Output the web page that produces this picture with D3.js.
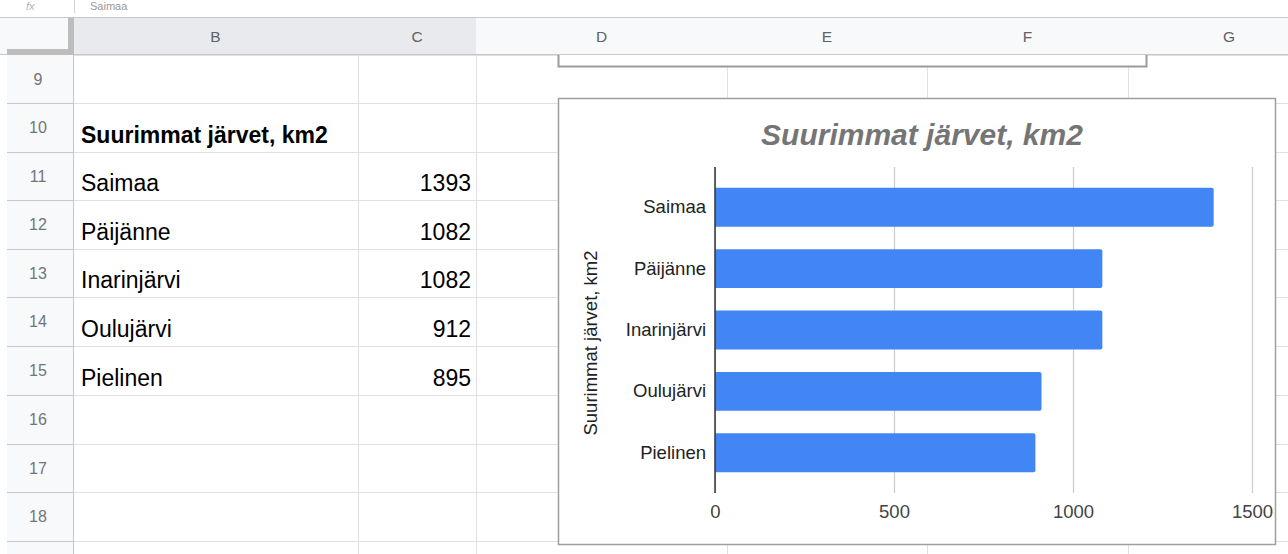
<!DOCTYPE html>
<html><head><meta charset="utf-8">
<script src="https://cdn.jsdelivr.net/npm/d3@7"></script>
<style>
body{margin:0;background:#fff;overflow:hidden}
text{font-family:"Liberation Sans",Arial,sans-serif}
</style>
</head><body>
<svg id="c" width="1288" height="554"></svg>
<script>
// ---------- data ----------
const columnLetters = ["B", "C", "D", "E", "F", "G"];
const rowNumbers = [9, 10, 11, 12, 13, 14, 15, 16, 17, 18];
const tableTitle = "Suurimmat järvet, km2";
const lakes = ["Saimaa", "Päijänne", "Inarinjärvi", "Oulujärvi", "Pielinen"];
const areas = [1393, 1082, 1082, 912, 895];
const xTicks = [0, 500, 1000, 1500];
const chartTitle = "Suurimmat järvet, km2";
const yAxisTitle = "Suurimmat järvet, km2";
const formulaText = "Saimaa";

// ---------- layout ----------
const svg = d3.select("#c");
const colEdges = [73, 358, 476, 727, 927, 1128, 1330];
const rowEdges = [55, 103, 152, 200, 249, 297, 346, 395, 444, 492, 541];
const gridColor = "#e0e0e0", hdrLine = "#c7c7c7";

svg.append("rect").attr("width", 1288).attr("height", 554).attr("fill", "#fff");

// cell gridlines
const grid = svg.append("g");
colEdges.slice(1, -1).forEach(x => grid.append("line")
  .attr("x1", x + .5).attr("x2", x + .5).attr("y1", 55).attr("y2", 554)
  .attr("stroke", gridColor).attr("stroke-width", 1));
rowEdges.forEach(y => grid.append("line")
  .attr("x1", 73).attr("x2", 1288).attr("y1", y + .5).attr("y2", y + .5)
  .attr("stroke", gridColor).attr("stroke-width", 1));

// cell contents
const cellFont = 23;
function rowBottom(n) { return rowEdges[rowNumbers.indexOf(n) + 1]; }
svg.append("text").attr("x", 81).attr("y", rowBottom(10) - 9)
  .attr("font-size", cellFont).attr("font-weight", "bold").attr("fill", "#000")
  .text(tableTitle);
lakes.forEach((l, i) => {
  svg.append("text").attr("x", 81).attr("y", rowBottom(11 + i) - 9)
    .attr("font-size", cellFont).attr("fill", "#000").text(l);
  svg.append("text").attr("x", 471).attr("y", rowBottom(11 + i) - 9)
    .attr("font-size", cellFont).attr("fill", "#000").attr("text-anchor", "end")
    .text(areas[i]);
});

// chart 1 remnant (bottom of another chart)
svg.append("rect").attr("x", 558.5).attr("y", 30).attr("width", 588).attr("height", 36.5)
  .attr("fill", "#fff").attr("stroke", "#9a9a9a").attr("stroke-width", 2);

// formula bar
svg.append("rect").attr("x", 0).attr("y", 0).attr("width", 1288).attr("height", 17).attr("fill", "#fff");
svg.append("text").attr("x", 26).attr("y", 10).attr("font-size", 11).attr("font-style", "italic")
  .attr("fill", "#b0b4b8").text("fx");
svg.append("line").attr("x1", 74.5).attr("x2", 74.5).attr("y1", 0).attr("y2", 13)
  .attr("stroke", "#d0d0d0");
svg.append("text").attr("x", 90).attr("y", 10).attr("font-size", 11).attr("fill", "#999")
  .text(formulaText);

// column header row
const hdr = svg.append("g");
hdr.append("rect").attr("x", 0).attr("y", 17).attr("width", 1288).attr("height", 38).attr("fill", "#f8f9fa");
columnLetters.forEach((c, i) => {
  const x0 = colEdges[i], x1 = colEdges[i + 1];
  hdr.append("rect").attr("x", x0).attr("y", 17).attr("width", x1 - x0).attr("height", 38)
    .attr("fill", (c === "B" || c === "C") ? "#e8eaed" : "#f8f9fa");
  hdr.append("line").attr("x1", x1 + .5).attr("x2", x1 + .5).attr("y1", 17).attr("y2", 55)
    .attr("stroke", hdrLine);
  hdr.append("text").attr("x", (x0 + x1) / 2).attr("y", 42).attr("text-anchor", "middle")
    .attr("font-size", 15.5).attr("fill", "#5f6368").text(c);
});
hdr.append("line").attr("x1", 0).attr("x2", 1288).attr("y1", 17.5).attr("y2", 17.5).attr("stroke", hdrLine);
hdr.append("line").attr("x1", 0).attr("x2", 1288).attr("y1", 54.5).attr("y2", 54.5).attr("stroke", hdrLine);
// corner cell
hdr.append("rect").attr("x", 7).attr("y", 18).attr("width", 66).attr("height", 37).attr("fill", "#f8f9fa");
hdr.append("rect").attr("x", 68).attr("y", 18).attr("width", 6).attr("height", 37).attr("fill", "#bdbdbd");
hdr.append("rect").attr("x", 7).attr("y", 49).attr("width", 67).attr("height", 6).attr("fill", "#bdbdbd");

// row headers
const rh = svg.append("g");
rh.append("rect").attr("x", 7).attr("y", 55).attr("width", 66).attr("height", 499).attr("fill", "#f8f9fa");
rowNumbers.forEach((n, i) => {
  const y0 = rowEdges[i], y1 = rowEdges[i + 1];
  rh.append("line").attr("x1", 7).attr("x2", 73).attr("y1", y1 + .5).attr("y2", y1 + .5)
    .attr("stroke", hdrLine);
  rh.append("text").attr("x", 38).attr("y", (y0 + y1) / 2 + 5.5).attr("text-anchor", "middle")
    .attr("font-size", 16).attr("fill", "#70757a").text(n);
});
rh.append("line").attr("x1", 73.5).attr("x2", 73.5).attr("y1", 55).attr("y2", 554).attr("stroke", hdrLine);

// ---------- chart 2 ----------
const ch = svg.append("g");
ch.append("rect").attr("x", 558.5).attr("y", 98.5).attr("width", 717).attr("height", 446)
  .attr("fill", "#fff").attr("stroke", "#9e9e9e").attr("stroke-width", 1.5);

const plotTop = 167, plotBottom = 493;
const x = d3.scaleLinear().domain([0, 1500]).range([715, 1252]);
const y = d3.scaleBand().domain(lakes).range([plotTop, plotBottom])
  .paddingInner(0.366).paddingOuter(0.34);

// gridlines via axis
const gridAxis = ch.append("g").attr("transform", `translate(0,${plotBottom})`)
  .call(d3.axisBottom(x).tickValues(xTicks).tickSize(-(plotBottom - plotTop)).tickFormat(""));
gridAxis.select(".domain").remove();
gridAxis.selectAll(".tick line").attr("stroke", "#cccccc").attr("stroke-width", 1.2);

// bars
ch.selectAll("path.bar").data(lakes).join("path").attr("class", "bar")
  .attr("fill", "#4285f4")
  .attr("d", (d, i) => {
    const x0 = x(0), x1 = x(areas[i]), y0 = y(d), h = y.bandwidth(), r = 2;
    return `M${x0},${y0}H${x1 - r}Q${x1},${y0} ${x1},${y0 + r}V${y0 + h - r}Q${x1},${y0 + h} ${x1 - r},${y0 + h}H${x0}Z`;
  });

// zero axis line
ch.append("line").attr("x1", x(0)).attr("x2", x(0)).attr("y1", plotTop).attr("y2", plotBottom)
  .attr("stroke", "#333").attr("stroke-width", 1.5);

// x tick labels
const xa = ch.append("g").attr("transform", `translate(0,${plotBottom})`)
  .call(d3.axisBottom(x).tickValues(xTicks).tickSize(0).tickPadding(12).tickFormat(d3.format("d")));
xa.select(".domain").remove();
xa.selectAll("text").attr("font-size", 18.5).attr("fill", "#444")
  .attr("font-family", "Liberation Sans, Arial, sans-serif");

// category labels
const ya = ch.append("g").attr("transform", `translate(${x(0)},0)`)
  .call(d3.axisLeft(y).tickSize(0).tickPadding(9));
ya.select(".domain").remove();
ya.selectAll("text").attr("font-size", 18.5).attr("fill", "#222")
  .attr("font-family", "Liberation Sans, Arial, sans-serif");

// titles
ch.append("text").attr("x", 922).attr("y", 145).attr("text-anchor", "middle")
  .attr("font-size", 30).attr("font-weight", "bold").attr("font-style", "italic")
  .attr("fill", "#757575").text(chartTitle);
ch.append("text").attr("transform", `translate(597,343) rotate(-90)`).attr("text-anchor", "middle")
  .attr("font-size", 18.5).attr("fill", "#222").text(yAxisTitle);
</script>
</body></html>
